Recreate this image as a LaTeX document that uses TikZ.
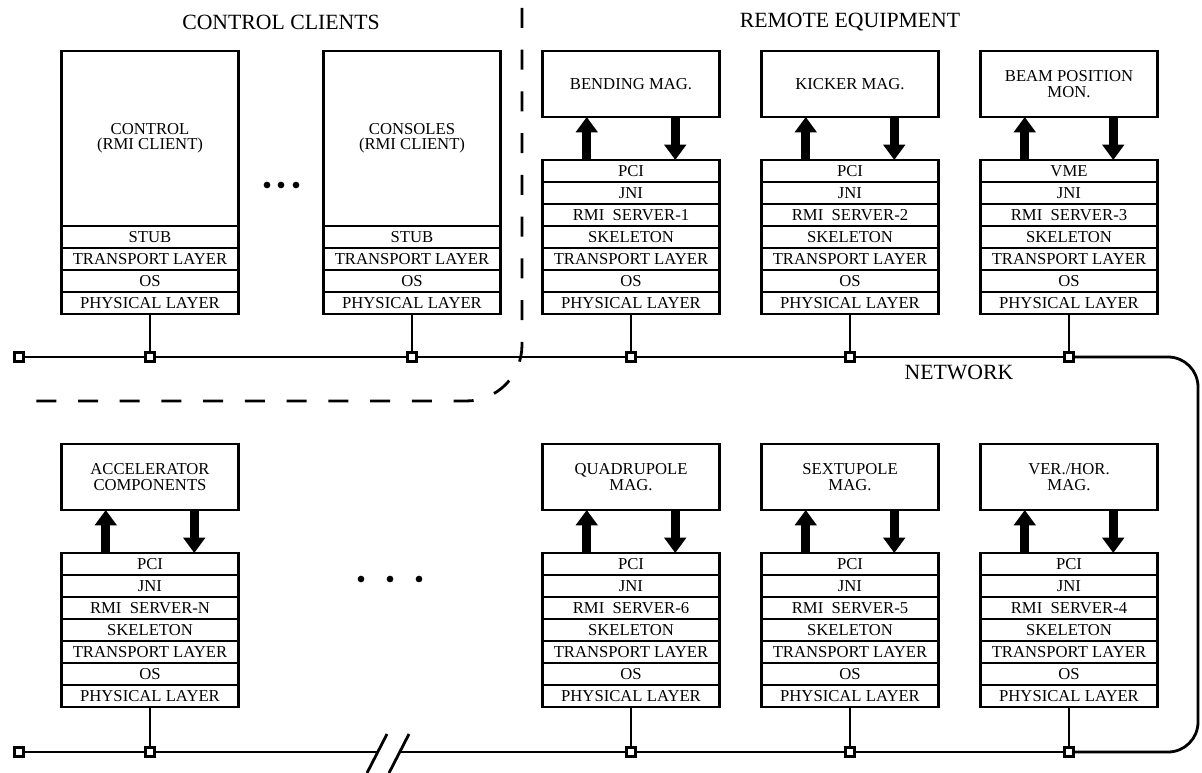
\documentclass[tikz,border=0pt]{standalone}
\usepackage{fontspec}
\setmainfont{Liberation Serif}
\usetikzlibrary{arrows.meta,positioning,calc}
\tikzset{
  slab/.style={draw, line width=2.1pt, minimum width=132.75pt, minimum height=16.5pt,
               inner sep=0pt, outer sep=0pt, align=center,
               font=\fontsize{12.5}{11.5}\selectfont},
  devbox/.style={slab, minimum height=49.5pt},
  hostbox/.style={slab, minimum height=131.25pt},
  tap/.style={draw, line width=2.1pt, fill=white, minimum size=7pt,
              inner sep=0pt, outer sep=0pt},
  wire/.style={line width=2.1pt},
  io/.style={line width=6.75pt, -{Triangle[length=11.5pt, width=16pt]}},
  heading/.style={font=\fontsize{16.3}{18}\selectfont},
  divider/.style={line width=2.1pt, dash pattern=on 15pt off 16.3pt, rounded corners=42pt},
  elip/.style={circle, fill, inner sep=0pt, minimum size=5pt},
}
\begin{document}
\begin{tikzpicture}[x=0.75pt, y=-0.75pt]
  \useasboundingbox (0,0) rectangle (1202,773);
  % headings
  \node[heading] (cc) at (281,22) {CONTROL CLIENTS};
  \node[heading] (re) at (850,22) {REMOTE EQUIPMENT};
  \node[heading] (net) at (959,372) {NETWORK};
  % control clients
  \node[hostbox, anchor=north] (h1) at (150,51) {CONTROL\\(RMI CLIENT)};
  \node[slab, below=0pt of h1] (stub1) {STUB};
  \node[slab, below=0pt of stub1] (tlh1) {TRANSPORT LAYER};
  \node[slab, below=0pt of tlh1] (osh1) {OS};
  \node[slab, below=0pt of osh1] (phyh1) {PHYSICAL LAYER};
  \node[hostbox, anchor=north] (h2) at (412,51) {CONSOLES\\(RMI CLIENT)};
  \node[slab, below=0pt of h2] (stub2) {STUB};
  \node[slab, below=0pt of stub2] (tlh2) {TRANSPORT LAYER};
  \node[slab, below=0pt of tlh2] (osh2) {OS};
  \node[slab, below=0pt of osh2] (phyh2) {PHYSICAL LAYER};
  \node[tap] (ja) at (150,357) {};
  \node[tap] (jb) at (412,357) {};
  \draw[wire] (phyh1) -- (ja);
  \draw[wire] (phyh2) -- (jb);
  % remote equipment
  \foreach \n/\x/\y/\w/\dev/\bus/\srv in {
      1/631/160/357/{BENDING MAG.}/PCI/1,
      2/850/160/357/{KICKER MAG.}/PCI/2,
      3/1069/160/357/{BEAM POSITION\\MON.}/VME/3,
      4/1069/553/752/{VER./HOR.\\MAG.}/PCI/4,
      5/850/553/752/{SEXTUPOLE\\MAG.}/PCI/5,
      6/631/553/752/{QUADRUPOLE\\MAG.}/PCI/6,
      7/150/553/752/{ACCELERATOR\\COMPONENTS}/PCI/N} {
    \node[slab, anchor=north] (pci\n) at (\x,\y) {\bus};
    \node[slab, below=0pt of pci\n] (jni\n) {JNI};
    \node[slab, below=0pt of jni\n] (rmi\n) {RMI\enspace SERVER-\srv};
    \node[slab, below=0pt of rmi\n] (skel\n) {SKELETON};
    \node[slab, below=0pt of skel\n] (tl\n) {TRANSPORT LAYER};
    \node[slab, below=0pt of tl\n] (os\n) {OS};
    \node[slab, below=0pt of os\n] (phy\n) {PHYSICAL LAYER};
    \node[devbox, above=32.25pt of pci\n] (dev\n) {\dev};
    \node[tap] (j\n) at (\x,\w) {};
    \draw[io] ($(pci\n.north west)!0.25!(pci\n.north east)$)
      -- ($(dev\n.south west)!0.25!(dev\n.south east)$);
    \draw[io] ($(dev\n.south west)!0.75!(dev\n.south east)$)
      -- ($(pci\n.north west)!0.75!(pci\n.north east)$);
    \draw[wire] (phy\n) -- (j\n);
  }
  % network
  \node[tap] (e1) at (19,357) {};
  \node[tap] (e2) at (19,752) {};
  \coordinate (ne) at (1198,357);
  \coordinate (se) at (1198,752);
  \coordinate (bk1) at (378,752);
  \coordinate (bk2) at (400,752);
  \draw[wire] (e1) -- (ja) -- (jb) -- (j1) -- (j2) -- (j3);
  \draw[wire, rounded corners=22.5pt] (j3) -- (ne) -- (se) -- (j4);
  \draw[wire] (j4) -- (j5) -- (j6) -- (bk2);
  \draw[wire] (bk1) -- (j7) -- (e2);
  \draw[wire] (367,773) -- (387,734);
  \draw[wire] (389,773) -- (409,734);
  % more units
  \foreach \x [count=\i] in {267,281,296}
    \node[elip] (dt\i) at (\x,185) {};
  \foreach \x [count=\i] in {361,390,419}
    \node[elip] (db\i) at (\x,579) {};
  % clients / equipment border
  \draw[divider] (522,8) -- (522,401) -- (35,401);
\end{tikzpicture}
\end{document}
